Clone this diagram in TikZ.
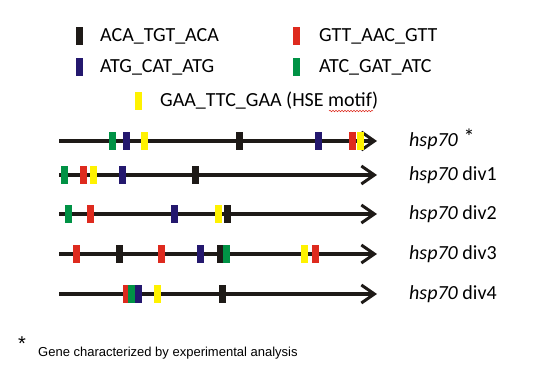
\documentclass[tikz,border=0pt]{standalone}
\usepackage{fontspec}
\setmainfont{Carlito}
\newfontfamily\notefont{Liberation Sans}
\usetikzlibrary{arrows.meta}
\usetikzlibrary{positioning}
\usetikzlibrary{decorations.pathmorphing}
\definecolor{mblack}{HTML}{1E1A17}
\definecolor{mred}{HTML}{DE2A1E}
\definecolor{mblue}{HTML}{24186E}
\definecolor{mgreen}{HTML}{009245}
\definecolor{myellow}{HTML}{FFF200}
\tikzstyle{motif} = [rectangle, inner sep=0pt, minimum width=7pt, minimum height=18pt]
\tikzstyle{key} = [rectangle, inner sep=0pt, minimum width=7pt, minimum height=18pt]
\tikzstyle{gene} = [draw=mblack, line width=3.5pt, -{Straight Barb[length=13pt,width=18pt,line width=3pt]}]
\tikzstyle{keytext} = [anchor=west, inner sep=0pt, font=\fontsize{20}{22}\selectfont]
\tikzstyle{genename} = [anchor=west, inner sep=0pt, font=\fontsize{20}{22}\selectfont]

\begin{document}
\begin{tikzpicture}[x=1pt, y=-1pt]
    \useasboundingbox (0,0) rectangle (539,371);

    % We start by placing the legend
    \node [key, fill=mblack] (kblack) at (79.5,36) {};
    \node [keytext] (tblack) at (100,36) {ACA\_TGT\_ACA};
    \node [key, fill=mred] (kred) at (296.5,36) {};
    \node [keytext] (tred) at (319,36) {GTT\_AAC\_GTT};
    \node [key, fill=mblue] (kblue) at (79.5,67) {};
    \node [keytext] (tblue) at (100,67) {ATG\_CAT\_ATG};
    \node [key, fill=mgreen] (kgreen) at (296.5,67) {};
    \node [keytext] (tgreen) at (319,67) {ATC\_GAT\_ATC};
    \node [key, fill=myellow] (kyellow) at (138,101) {};
    \node [keytext] (tyellow) at (160,101) {GAA\_TTC\_GAA (HSE motif)};
    \draw [mred, line width=0.5pt, decorate,
        decoration={snake, amplitude=0.8pt, segment length=3pt}]
        (329,111) -- (373,111);

    % Then the genes, one line per copy
    \coordinate (s0) at (59,141);  \coordinate (e0) at (377,141);
    \coordinate (s1) at (59,175);  \coordinate (e1) at (377,175);
    \coordinate (s2) at (59,214);  \coordinate (e2) at (377,214);
    \coordinate (s3) at (59,254);  \coordinate (e3) at (377,254);
    \coordinate (s4) at (59,294);  \coordinate (e4) at (377,294);
    \foreach \r in {0,...,4}
        \draw [gene] (s\r) -- (e\r);

    % hsp70
    \foreach \x/\c [count=\i] in {112/mgreen, 126.5/mblue, 144.5/myellow, 239/mblack,
        318.5/mblue, 352/mred, 360.5/myellow}
        \node [motif, fill=\c] (hsp\i) at (\x,141) {};
    % hsp70 div1
    \foreach \x/\c [count=\i] in {64/mgreen, 83/mred, 93/myellow, 122.5/mblue, 195.5/mblack}
        \node [motif, fill=\c] (divone\i) at (\x,175) {};
    % hsp70 div2
    \foreach \x/\c [count=\i] in {68/mgreen, 90/mred, 174/mblue, 218.5/myellow, 227/mblack}
        \node [motif, fill=\c] (divtwo\i) at (\x,214) {};
    % hsp70 div3
    \foreach \x/\c [count=\i] in {76/mred, 119.5/mblack, 161/mred, 200.5/mblue,
        220/mblack, 226.5/mgreen, 304/myellow, 315.5/mred}
        \node [motif, fill=\c] (divthree\i) at (\x,254) {};
    % hsp70 div4
    \foreach \x/\c [count=\i] in {126.5/mred, 131.3/mgreen, 138/mblue, 157.5/myellow, 222/mblack}
        \node [motif, fill=\c] (divfour\i) at (\x,294) {};

    % Names of the genes
    \node [genename] (g0) at (409,141) {\textit{hsp70}};
    \node [font=\fontsize{22}{22}\selectfont, inner sep=0pt] (g0star) at (469,137) {*};
    \node [genename] (g1) at (409,175) {\textit{hsp70} div1};
    \node [genename] (g2) at (409,214) {\textit{hsp70} div2};
    \node [genename] (g3) at (409,254) {\textit{hsp70} div3};
    \node [genename] (g4) at (409,294) {\textit{hsp70} div4};

    % Footnote
    \node [inner sep=0pt, font=\notefont\fontsize{20}{20}\selectfont] (fstar) at (22,344) {*};
    \node [anchor=west, inner sep=0pt, font=\notefont\fontsize{13}{15}\selectfont]
        (fnote) at (38,353) {Gene characterized by experimental analysis};
\end{tikzpicture}
\end{document}
